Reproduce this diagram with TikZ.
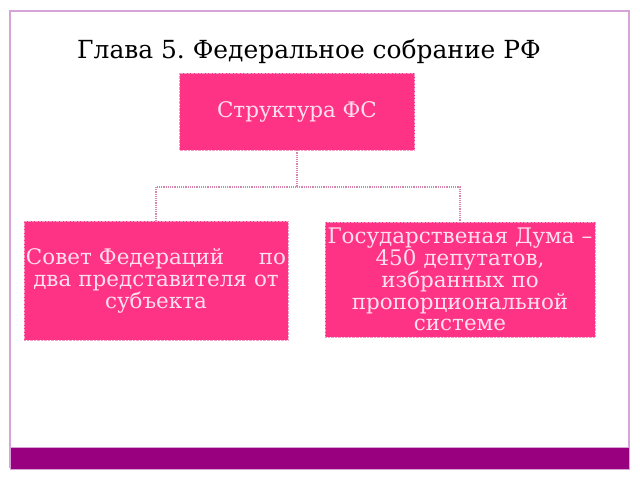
\documentclass[tikz,border=0pt]{standalone}
\usepackage{fontspec}
\setmainfont{DejaVu Serif}
\frenchspacing
\definecolor{boxpink}{HTML}{FF3385}
\definecolor{boxedge}{HTML}{F59CC4}
\definecolor{boxtext}{HTML}{FFE0EE}
\definecolor{linkpink}{HTML}{D486AE}
\definecolor{framelilac}{HTML}{D6A4D6}
\definecolor{barpurple}{HTML}{990080}
\tikzset{
  box/.style={fill=boxpink, draw=boxedge, densely dotted, text=boxtext,
    font=\fontsize{21.5}{22}\selectfont, align=center, inner sep=2bp},
  link/.style={draw=linkpink, densely dotted, line width=1.2bp}
}
\begin{document}
\begin{tikzpicture}[x=1bp,y=-1bp]
    \useasboundingbox (0,0) rectangle (640,480);
    \fill[white] (0,0) rectangle (640,480);
    \draw[framelilac, line width=1.2bp] (10,468) -- (10,11) -- (629,11) -- (629,468);
    \fill[barpurple] (10,447) rectangle (629,469);
    \draw[framelilac, line width=0.6bp] (10,447) rectangle (629,469);
    \node[font=\fontsize{25}{28}\selectfont, anchor=base] (title) at (309,59) {Глава 5. Федеральное собрание РФ};
    \node[box, minimum width=235bp, minimum height=77bp] (fs) at (297,111.5) {Структура ФС};
    \node[box, text width=260bp, minimum height=119bp] (sovet) at (156,280.5)
        {Совет Федераций\hfill по\\ два представителя от\\ субъекта};
    \node[box, text width=266bp, minimum height=115bp] (duma) at (460,279.5)
        {Государственая Дума –\\ 450 депутатов,\\ избранных по\\ пропорциональной\\ системе};
    \coordinate (fork) at (297,187);
    \draw[link] (fs.south) -- (fork) -| (sovet.north);
    \draw[link] (fork) -| (duma.north);
\end{tikzpicture}
\end{document}
